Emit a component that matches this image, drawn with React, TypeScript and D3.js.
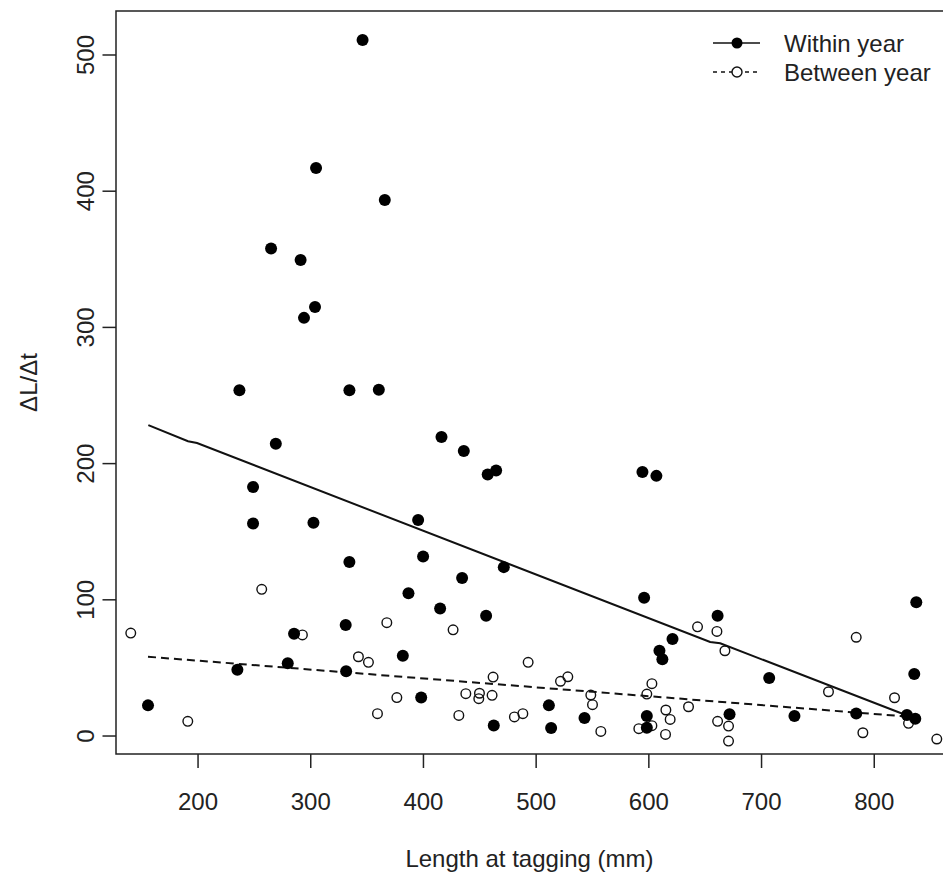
import React from 'react';
import * as d3 from 'd3';

// within year (filled)
const withinLength = [155.6, 234.9, 236.7, 248.8, 248.8, 264.8, 269, 279.6, 285.2, 291, 294, 302.4, 303.8, 304.7, 331, 331.4, 334.3, 334.3, 346, 360.4, 365.7, 381.7, 386.7, 395.3, 398, 399.7, 414.8, 416, 434.3, 435.8, 455.6, 457, 462.4, 464.5, 471.3, 511.3, 513.3, 542.9, 594.3, 595.8, 598.2, 598.2, 606.7, 609.4, 612, 621, 661, 671.6, 706.8, 729.2, 784, 829, 835.5, 836.4, 837.3];
const withinRate = [22.5, 48.7, 253.8, 182.8, 156, 358, 214.6, 53.4, 75.1, 349.5, 307, 156.6, 315, 417, 81.5, 47.5, 253.8, 127.8, 511, 254.3, 393.5, 59, 104.8, 158.6, 28.2, 131.8, 93.7, 219.5, 116, 209.2, 88.3, 192, 7.8, 195, 124, 22.5, 5.9, 13.2, 193.8, 101.6, 14.7, 6.1, 191, 62.6, 56.3, 71.2, 88.3, 15.9, 42.6, 14.7, 16.6, 15.4, 45.5, 12.7, 98.2];

// between year (open)
const betweenLength = [140.3, 190.9, 256.5, 292.6, 342.3, 351.2, 359.2, 367.5, 376.4, 426.3, 431.4, 437.6, 449.1, 449.7, 460.9, 461.8, 480.7, 488.2, 492.9, 521.6, 528.1, 548.5, 550, 557.4, 591.1, 598.2, 602.7, 602.7, 614.8, 615.1, 618.9, 635.2, 643.2, 660.4, 661, 667.5, 670.7, 670.7, 759.4, 784, 789.9, 818, 830.4, 855.5];
const betweenRate = [75.6, 10.8, 107.7, 74.2, 58.2, 54.1, 16.4, 83.2, 28.2, 78, 15.1, 31.1, 27.4, 31.4, 29.9, 43.3, 14, 16.4, 54.1, 40.2, 43.5, 30.1, 23, 3.4, 5.4, 30.8, 7.6, 38.4, 1.2, 19.1, 12.2, 21.5, 80.2, 76.8, 10.8, 62.6, -3.7, 7.3, 32.5, 72.5, 2.4, 28.1, 9.3, -2.2];

// fitted lines
const withinFitX = [155.9, 191.1, 199.1, 654.4, 663.3, 830.8];
const withinFitY = [228.3, 216.4, 215.1, 69.0, 68.1, 14.5];
const betweenFitX = [155.6, 830.4];
const betweenFitY = [58.2, 14.2];

const xTicks = [200, 300, 400, 500, 600, 700, 800];
const yTicks = [0, 100, 200, 300, 400, 500];
const seriesNames = ['Within year', 'Between year'];

const W = 943;
const H = 874;
const left = 116, top = 11, right = 943, bottom = 754;
const font = 'Liberation Sans, Arial, Helvetica, sans-serif';

const App = () => {
  const x = d3.scaleLinear().domain([127.2, 861]).range([left, right]);
  const y = d3.scaleLinear().domain([-13.2, 532.3]).range([bottom, top]);

  const line = d3.line<[number, number]>().x(d => x(d[0])).y(d => y(d[1]));
  const withinPath = line(withinFitX.map((v, i) => [v, withinFitY[i]]));
  const betweenPath = line(betweenFitX.map((v, i) => [v, betweenFitY[i]]));

  return (
    <svg width={W} height={H} style={{ position: 'absolute', left: 0, top: 0, background: '#fff' }} fontFamily={font}>
      <rect x={left} y={top} width={right - left + 10} height={bottom - top} fill="none" stroke="#222" strokeWidth={1.5} />

      {xTicks.map(t => (
        <g key={t}>
          <line x1={x(t)} x2={x(t)} y1={bottom} y2={bottom + 14} stroke="#222" strokeWidth={1.5} />
          <text x={x(t)} y={810} textAnchor="middle" fontSize={24} fill="#222">{t}</text>
        </g>
      ))}
      {yTicks.map(t => (
        <g key={t}>
          <line x1={left - 13.5} x2={left} y1={y(t)} y2={y(t)} stroke="#222" strokeWidth={1.5} />
          <text transform={`translate(94,${y(t)}) rotate(-90)`} textAnchor="middle" fontSize={24} fill="#222">{t}</text>
        </g>
      ))}

      <text x={(left + right) / 2} y={867} textAnchor="middle" fontSize={24} fill="#222">Length at tagging (mm)</text>
      <text transform={`translate(37,${(top + bottom) / 2}) rotate(-90)`} textAnchor="middle" fontSize={24} fill="#222">ΔL/Δt</text>

      <path d={withinPath || ''} fill="none" stroke="#111" strokeWidth={2} />
      <path d={betweenPath || ''} fill="none" stroke="#111" strokeWidth={2} strokeDasharray="8,5" />

      {betweenLength.map((v, i) => (
        <circle key={'b' + i} cx={x(v)} cy={y(betweenRate[i])} r={4.8} fill="none" stroke="#111" strokeWidth={1.4} />
      ))}
      {withinLength.map((v, i) => (
        <circle key={'w' + i} cx={x(v)} cy={y(withinRate[i])} r={6} fill="#000" />
      ))}

      <g>
        <line x1={713} x2={760} y1={43} y2={43} stroke="#111" strokeWidth={1.5} />
        <circle cx={737} cy={43} r={5.5} fill="#000" />
        <text x={784} y={51.5} fontSize={24} fill="#222">{seriesNames[0]}</text>
        <line x1={713} x2={760} y1={72} y2={72} stroke="#111" strokeWidth={1.5} strokeDasharray="4,4" />
        <circle cx={737} cy={72} r={5} fill="#fff" stroke="#111" strokeWidth={1.4} />
        <text x={784} y={80.5} fontSize={24} fill="#222">{seriesNames[1]}</text>
      </g>
    </svg>
  );
};

export default App;
